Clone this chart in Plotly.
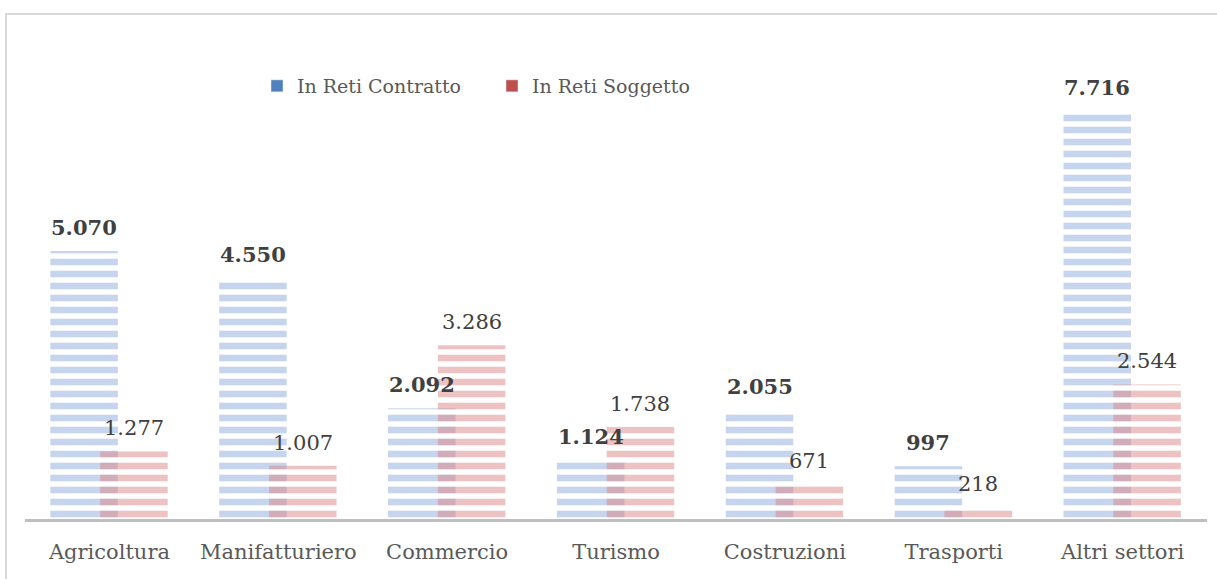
import plotly.graph_objects as go

categories = ["Agricoltura", "Manifatturiero", "Commercio", "Turismo", "Costruzioni", "Trasporti", "Altri settori"]
reti_contratto = [5070, 4550, 2092, 1124, 2055, 997, 7716]
reti_soggetto = [1277, 1007, 3286, 1738, 671, 218, 2544]
series_names = ["In Reti Contratto", "In Reti Soggetto"]

FONT = "DejaVu Serif"
BLUE_SOLID = "#4f81bd"
RED_SOLID = "#c0504d"
BLUE_PAT = "#8dacdc"
RED_PAT = "#d98585"

W = 0.40
OFF_B = -0.35
OFF_R = -0.055

def fmt(v):
    return f"{v:,}".replace(",", ".")

xs = list(range(len(categories)))

fig = go.Figure()
fig.add_trace(go.Bar(
    x=xs, y=reti_contratto, name=series_names[0], width=W, offset=OFF_B,
    marker=dict(color="rgba(0,0,0,0)", line=dict(width=0),
                pattern=dict(shape="-", fgcolor=BLUE_PAT, bgcolor="rgba(0,0,0,0)", size=12, solidity=0.55, fillmode="overlay")),
    showlegend=False, hoverinfo="skip",
))
fig.add_trace(go.Bar(
    x=xs, y=reti_soggetto, name=series_names[1], width=W, offset=OFF_R,
    marker=dict(color="rgba(0,0,0,0)", line=dict(width=0),
                pattern=dict(shape="-", fgcolor=RED_PAT, bgcolor="rgba(0,0,0,0)", size=12, solidity=0.55, fillmode="overlay")),
    showlegend=False, hoverinfo="skip",
))
# legend swatches
fig.add_trace(go.Bar(x=[None], y=[None], name=series_names[0], marker=dict(color=BLUE_SOLID)))
fig.add_trace(go.Bar(x=[None], y=[None], name=series_names[1], marker=dict(color=RED_SOLID)))

annotations = []
for i, v in enumerate(reti_contratto):
    annotations.append(dict(x=i + OFF_B + W / 2, y=v, xref="x", yref="y", text=f"<b>{fmt(v)}</b>",
                            showarrow=False, yanchor="bottom", yshift=9,
                            font=dict(family=FONT, size=21, color="#404040")))
for i, v in enumerate(reti_soggetto):
    annotations.append(dict(x=i + OFF_R + W / 2, y=v, xref="x", yref="y", text=fmt(v),
                            showarrow=False, yanchor="bottom", yshift=9,
                            font=dict(family=FONT, size=21, color="#404040")))

fig.update_layout(
    width=1217, height=579,
    margin=dict(l=25, r=10, t=40, b=60),
    paper_bgcolor="white", plot_bgcolor="white",
    barmode="overlay",
    font=dict(family=FONT, color="#595959"),
    legend=dict(orientation="h", x=(257 - 25) / 1182, y=(519 - 86) / 479, xanchor="left", yanchor="middle",
                font=dict(family=FONT, size=19, color="#595959"),
                itemwidth=30, entrywidth=190, entrywidthmode="pixels",
                traceorder="normal", bgcolor="rgba(0,0,0,0)"),
    annotations=annotations,
    shapes=[dict(type="rect", xref="paper", yref="paper",
                 x0=(6 - 25) / 1182, x1=(1260 - 25) / 1182,
                 y0=(519 - 640) / 479, y1=(519 - 14) / 479,
                 line=dict(color="#d9d9d9", width=2), fillcolor="rgba(0,0,0,0)", layer="below")],
    xaxis=dict(tickmode="array", tickvals=xs, ticktext=categories, range=[-0.5, 6.5],
               showline=True, linecolor="#bfbfbf", linewidth=3, showgrid=False, zeroline=False,
               ticks="", ticklabelstandoff=12,
               tickfont=dict(family=FONT, size=21, color="#595959")),
    yaxis=dict(visible=False, range=[0, 9058], showgrid=False, zeroline=False),
)

fig.write_html("out.html", config={"displayModeBar": False},
               post_script="document.body.style.margin='0px';")
